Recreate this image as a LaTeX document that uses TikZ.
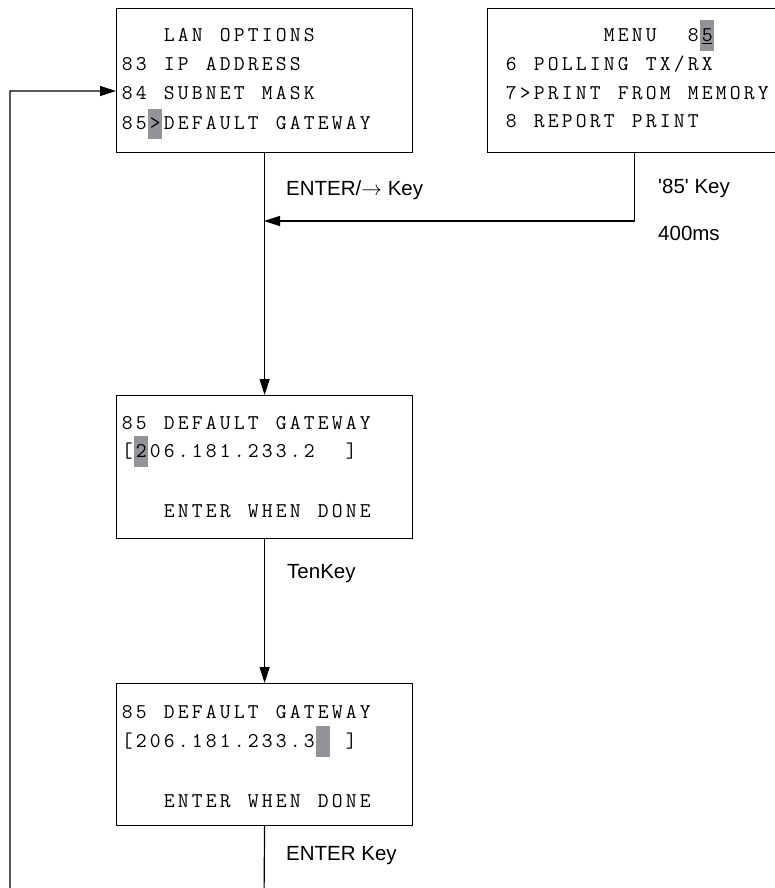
\documentclass[tikz,border=0pt]{standalone}
\usepackage{fontspec}
\usetikzlibrary{arrows.meta}
\newfontfamily\labfont{Liberation Sans}
\definecolor{hl}{RGB}{148,148,152}
\ExplSyntaxOn
\NewDocumentCommand\lcd{m}{
  \str_map_inline:nn {#1} {
    \str_if_eq:nnTF {##1} {_} { \hspace{14pt} } { \makebox[14pt][c]{##1} }
  }
}
\ExplSyntaxOff
\tikzset{
  scrbox/.style={draw, line width=1.2pt, inner sep=0, anchor=north west},
  lcdtxt/.style={anchor=base west, inner sep=0, font=\ttfamily\fontsize{21}{21}\selectfont},
  lab/.style={anchor=base west, inner sep=0, font=\labfont\fontsize{20.5}{20.5}\selectfont},
  conn/.style={line width=1.2pt, -{Triangle[length=16pt,width=10pt]}},
  hlcell/.style={fill=hl}
}
\begin{document}
\begin{tikzpicture}[x=1pt,y=-1pt]
\useasboundingbox (0,0) rectangle (775,888);
\clip (0,0) rectangle (775,888);
% highlights
\fill[hlcell] (148,109) rectangle (162,139);
\fill[hlcell] (700,20) rectangle (714,51);
\fill[hlcell] (134,436) rectangle (148,467);
\fill[hlcell] (316,726) rectangle (330,757);
% boxes
\node[scrbox, minimum width=296pt, minimum height=144pt] (b1) at (116,8) {};
\node[scrbox, minimum width=294pt, minimum height=144pt] (b2) at (487,8) {};
\node[scrbox, minimum width=296pt, minimum height=143pt] (b3) at (116,395) {};
\node[scrbox, minimum width=296pt, minimum height=142pt] (b4) at (116,683) {};
% box 1 text
\node[lcdtxt] (t11) at (120,42) {\lcd{___LAN_OPTIONS}};
\node[lcdtxt] (t12) at (120,71) {\lcd{83_IP_ADDRESS}};
\node[lcdtxt] (t13) at (120,100) {\lcd{84_SUBNET_MASK}};
\node[lcdtxt] (t14) at (120,129) {\lcd{85>DEFAULT_GATEWAY}};
% box 2 text
\node[lcdtxt] (t21) at (504,42) {\lcd{_______MENU__85}};
\node[lcdtxt] (t22) at (504,71) {\lcd{6_POLLING_TX/RX}};
\node[lcdtxt] (t23) at (504,100) {\lcd{7>PRINT_FROM_MEMORY}};
\node[lcdtxt] (t24) at (504,128) {\lcd{8_REPORT_PRINT}};
\draw[line width=1pt] (702,44) -- (712,44);
% box 3 text
\node[lcdtxt] (t31) at (120,429) {\lcd{85_DEFAULT_GATEWAY}};
\node[lcdtxt] (t32) at (120,457) {\lcd{[206.181.233.2__]}};
\node[lcdtxt] (t33) at (120,517) {\lcd{___ENTER_WHEN_DONE}};
% box 4 text
\node[lcdtxt] (t41) at (120,718) {\lcd{85_DEFAULT_GATEWAY}};
\node[lcdtxt] (t42) at (120,747) {\lcd{[206.181.233.3__]}};
\node[lcdtxt] (t43) at (120,807) {\lcd{___ENTER_WHEN_DONE}};
% labels
\node[lab] (l1) at (286,195) {ENTER/$\rightarrow$ Key};
\node[lab] (l2) at (658,193) {'85' Key};
\node[lab] (l3) at (658,240) {400ms};
\node[lab] (l4) at (287,578) {TenKey};
\node[lab] (l5) at (286,860) {ENTER Key};
% connectors
\coordinate (j1) at (264,221);
\coordinate (lb) at (264,900);
\coordinate (ll) at (10,900);
\coordinate (lt) at (10,91);
\draw[conn] (b1.south) -- (b3.north);
\draw[conn] (b2.south) |- (j1);
\draw[conn] (b3.south) -- (b4.north);
\draw[conn] (b4.south) -- (lb) -- (ll) -- (lt) -- (lt -| b1.west);
\end{tikzpicture}
\end{document}
